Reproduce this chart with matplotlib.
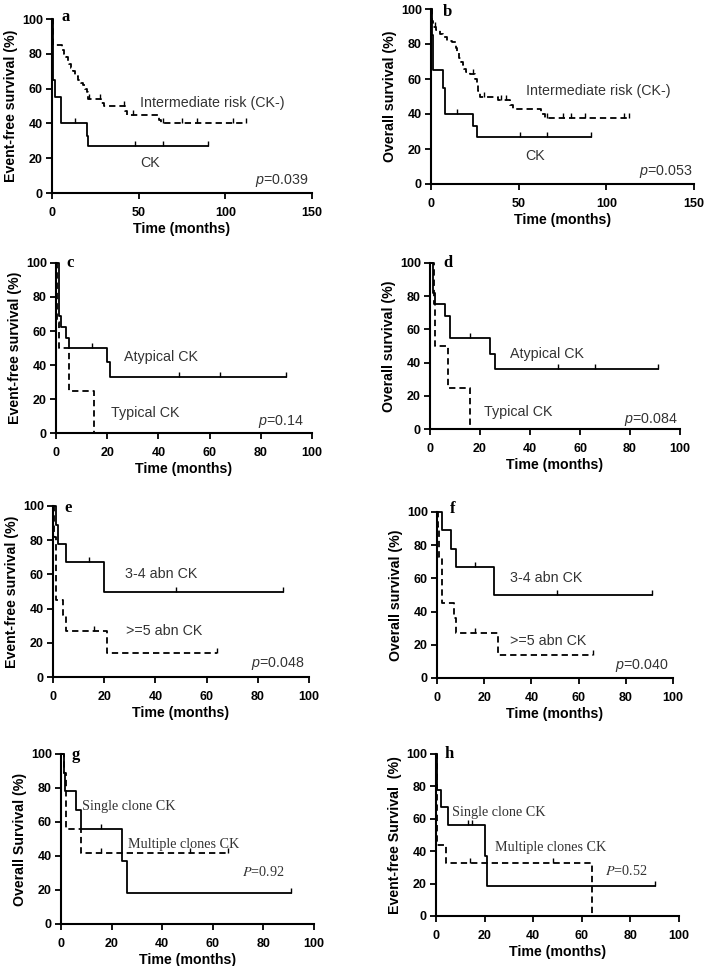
import numpy as np
import matplotlib
matplotlib.use("Agg")
import matplotlib.pyplot as plt

plt.rcParams['font.family'] = ['Liberation Sans', 'DejaVu Sans']
plt.rcParams['mathtext.fontset'] = 'custom'
plt.rcParams['mathtext.it'] = 'Liberation Sans:italic'
plt.rcParams['mathtext.rm'] = 'Liberation Sans'

# ---- data ----
# a: event-free survival, CK vs intermediate risk
a_ck_t = [0, 0.5, 2, 5, 20, 21, 90]
a_ck_s = [100, 65, 55, 40, 33, 27, 27]
a_ck_c = [13, 48, 64, 90]
a_ir_t = [0, 0.5, 6, 7, 8, 9, 10, 11, 12, 13, 14, 15, 16, 17, 18, 19, 20, 21, 28, 30, 42, 43, 62, 63, 112]
a_ir_s = [100, 85, 82, 80, 78, 76, 74, 72, 70, 68, 67, 65, 64, 63, 62, 60, 58, 54, 52, 50, 47, 45, 42, 40, 40]
a_ir_c = [21.5, 27.5, 41.5, 47, 64, 75, 83.5, 104.5, 112]

# b: overall survival, CK vs intermediate risk
b_ck_t = [0, 0.5, 1, 7, 8, 24, 26, 91]
b_ck_s = [100, 85, 65, 55, 40, 33, 27, 27]
b_ck_c = [15, 51, 66, 91]
b_ir_t = [0, 0.5, 1, 3, 5, 7, 9, 12, 14, 15, 16, 17, 18, 19, 20, 22, 25, 26, 27, 28, 38, 45, 47, 63, 65, 113]
b_ir_s = [100, 93, 90, 88, 86, 84, 82, 81, 78, 75, 72, 70, 68, 66, 64, 63, 60, 57, 53, 50, 48, 45, 43, 40, 38, 38]
b_ir_c = [2, 24, 30, 40, 43, 66, 75, 80, 88, 110, 113]

# c: event-free survival, atypical vs typical CK
c_at_t = [0, 1, 2, 4, 5, 20, 21, 90]
c_at_s = [100, 69, 62.5, 56, 50, 42, 33, 33]
c_at_c = [14, 48, 64, 90]
c_ty_t = [0, 0.5, 1, 5, 15, 15.01]
c_ty_s = [100, 65, 50, 25, 0, 0]
c_ty_c = []

# d: overall survival, atypical vs typical CK
d_at_t = [0, 1, 2, 6, 8, 24, 26, 91]
d_at_s = [100, 82, 75, 68, 55, 45, 36, 36]
d_at_c = [16, 51, 66, 91]
d_ty_t = [0, 1.5, 2, 7, 16, 16.01]
d_ty_s = [100, 75, 50, 25, 0, 0]
d_ty_c = []

# e: event-free survival, 3-4 vs >=5 abnormalities
e_34_t = [0, 1, 2, 5, 20, 90]
e_34_s = [100, 89, 78, 67, 50, 50]
e_34_c = [14, 48, 90]
e_5_t = [0, 0.5, 1, 1.3, 4, 5, 21, 64]
e_5_s = [100, 82, 64, 45, 36, 27, 14, 14]
e_5_c = [16, 64]

# f: overall survival, 3-4 vs >=5 abnormalities
f_34_t = [0, 2, 6, 8, 24, 91]
f_34_s = [100, 89, 78, 67, 50, 50]
f_34_c = [16, 51, 91]
f_5_t = [0, 0.5, 1, 2, 7, 8, 26, 66]
f_5_s = [100, 91, 73, 45, 36, 27, 14, 14]
f_5_c = [16, 66]

# g: overall survival, single vs multiple clones
g_sc_t = [0, 1, 1.5, 6, 8, 24, 26, 91]
g_sc_s = [100, 89, 78, 67, 56, 37, 18.5, 18.5]
g_sc_c = [16, 91]
g_mc_t = [0, 1, 2, 8, 66]
g_mc_s = [100, 89, 56, 42, 42]
g_mc_c = [16, 51, 66]

# h: event-free survival, single vs multiple clones
h_sc_t = [0, 0.5, 2, 5, 20, 21, 90]
h_sc_s = [100, 78, 67, 56, 37, 18.5, 18.5]
h_sc_c = [13, 15, 90]
h_mc_t = [0, 0.5, 4, 64, 64.01]
h_mc_s = [100, 44, 33, 0, 0]
h_mc_c = [14, 48]

W, H = 708, 966
fig = plt.figure(figsize=(W / 100, H / 100), dpi=100)


def make_ax(l, r, t, b, xmax, xstep, ylabel):
    ax = fig.add_axes([l / W, 1 - b / H, (r - l) / W, (b - t) / H])
    ax.set_xlim(0, xmax)
    ax.set_ylim(0, 100)
    xt = np.arange(0, xmax + 1, xstep)
    yt = np.arange(0, 101, 20)
    ax.set_xticks(xt, labels=[str(v) for v in xt], fontweight='bold')
    ax.set_yticks(yt, labels=[str(v) for v in yt], fontweight='bold')
    for sp in ['top', 'right']:
        ax.spines[sp].set_visible(False)
    for sp in ['left', 'bottom']:
        ax.spines[sp].set_linewidth(1.5)
    ax.tick_params(direction='out', length=4, width=1.3, labelsize=9)
    ax.tick_params(axis='x', pad=6)
    ax.tick_params(axis='y', pad=2.5)
    ax.set_xlabel('Time (months)', fontsize=10.2, fontweight='bold', labelpad=2)
    ax.set_ylabel(ylabel, fontsize=10.2, fontweight='bold', labelpad=3)
    return ax


def km(ax, t, s, cens, dashed=False):
    t = np.asarray(t, float)
    s = np.asarray(s, float)
    kw = dict(color='black', lw=1.3, clip_on=False)
    if dashed:
        line, = ax.step(t, s, where='post', **kw)
        line.set_dashes((3.5, 2.2))
    else:
        ax.step(t, s, where='post', **kw)
    if len(cens):
        idx = np.searchsorted(t, cens, side='right') - 1
        ax.plot(cens, s[idx], ls='none', marker=2, ms=3.5, mew=1.0,
                color='black', clip_on=False)


def letter(ax, x, y, ch):
    ax.text(x, y, ch, family='Liberation Serif', fontweight='bold', fontsize=12,
            ha='left', va='center', clip_on=False)


gray = '#333333'
fs = 10.3

# a
ax = make_ax(52, 312, 19, 193, 150, 50, 'Event-free survival (%)')
km(ax, a_ir_t, a_ir_s, a_ir_c, dashed=True)
km(ax, a_ck_t, a_ck_s, a_ck_c)
ax.text(51, 52, 'Intermediate risk (CK-)', fontsize=fs, color=gray, va='center')
ax.text(51, 17.5, 'CK', fontsize=fs, color=gray, va='center')
ax.text(148, 7, r'$\it{p}$=0.039', fontsize=fs, color=gray, ha='right', va='center')
letter(ax, 5.5, 101, 'a')

# b
ax = make_ax(431, 694, 9, 184, 150, 50, 'Overall survival (%)')
km(ax, b_ir_t, b_ir_s, b_ir_c, dashed=True)
km(ax, b_ck_t, b_ck_s, b_ck_c)
ax.text(54, 53, 'Intermediate risk (CK-)', fontsize=fs, color=gray, va='center')
ax.text(54, 16, 'CK', fontsize=fs, color=gray, va='center')
ax.text(149, 7, r'$\it{p}$=0.053', fontsize=fs, color=gray, ha='right', va='center')
letter(ax, 6.5, 98, 'b')

# c
ax = make_ax(56, 312, 263, 433, 100, 20, 'Event-free survival (%)')
km(ax, c_ty_t, c_ty_s, c_ty_c, dashed=True)
km(ax, c_at_t, c_at_s, c_at_c)
ax.text(26.5, 44.5, 'Atypical CK', fontsize=fs, color=gray, va='center')
ax.text(21.5, 12, 'Typical CK', fontsize=fs, color=gray, va='center')
ax.text(97, 7, r'$\it{p}$=0.14', fontsize=fs, color=gray, ha='right', va='center')
letter(ax, 4.2, 100, 'c')

# d
ax = make_ax(430, 680, 263, 429, 100, 20, 'Overall survival (%)')
km(ax, d_ty_t, d_ty_s, d_ty_c, dashed=True)
km(ax, d_at_t, d_at_s, d_at_c)
ax.text(32, 45, 'Atypical CK', fontsize=fs, color=gray, va='center')
ax.text(21.6, 10, 'Typical CK', fontsize=fs, color=gray, va='center')
ax.text(99, 6, r'$\it{p}$=0.084', fontsize=fs, color=gray, ha='right', va='center')
letter(ax, 5.3, 100, 'd')

# e
ax = make_ax(53, 309, 506, 677, 100, 20, 'Event-free survival (%)')
km(ax, e_5_t, e_5_s, e_5_c, dashed=True)
km(ax, e_34_t, e_34_s, e_34_c)
ax.text(28, 60.5, '3-4 abn CK', fontsize=fs, color=gray, va='center')
ax.text(28.7, 26.7, '>=5 abn CK', fontsize=fs, color=gray, va='center')
ax.text(98.4, 8, r'$\it{p}$=0.048', fontsize=fs, color=gray, ha='right', va='center')
letter(ax, 4.3, 99, 'e')

# f
ax = make_ax(437, 673, 512, 678, 100, 20, 'Overall survival (%)')
km(ax, f_5_t, f_5_s, f_5_c, dashed=True)
km(ax, f_34_t, f_34_s, f_34_c)
ax.text(31, 60, '3-4 abn CK', fontsize=fs, color=gray, va='center')
ax.text(31, 22.5, '>=5 abn CK', fontsize=fs, color=gray, va='center')
ax.text(98, 7.4, r'$\it{p}$=0.040', fontsize=fs, color=gray, ha='right', va='center')
letter(ax, 5.4, 102, 'f')

# g
ax = make_ax(61, 314, 754, 924, 100, 20, 'Overall Survival (%)')
km(ax, g_mc_t, g_mc_s, g_mc_c, dashed=True)
km(ax, g_sc_t, g_sc_s, g_sc_c)
ax.text(8.2, 69, 'Single clone CK', fontsize=10.2, color=gray, va='center',
        family='Liberation Serif')
ax.text(26.3, 47, 'Multiple clones CK', fontsize=10.2, color=gray, va='center',
        family='Liberation Serif')
ax.text(88.4, 30.5, r'$\it{P}$=0.92', fontsize=10.2, color=gray, ha='right',
        va='center', family='Liberation Serif', math_fontfamily='stix')
letter(ax, 4.2, 99.6, 'g')

# h
ax = make_ax(436, 679, 754, 916, 100, 20, 'Event-free Survival  (%)')
km(ax, h_mc_t, h_mc_s, h_mc_c, dashed=True)
km(ax, h_sc_t, h_sc_s, h_sc_c)
ax.text(6.6, 64, 'Single clone CK', fontsize=10.2, color=gray, va='center',
        family='Liberation Serif')
ax.text(24.2, 42, 'Multiple clones CK', fontsize=10.2, color=gray, va='center',
        family='Liberation Serif')
ax.text(87, 28, r'$\it{P}$=0.52', fontsize=10.2, color=gray, ha='right',
        va='center', family='Liberation Serif', math_fontfamily='stix')
letter(ax, 3.6, 100, 'h')

fig.savefig('out.png', dpi=100)
